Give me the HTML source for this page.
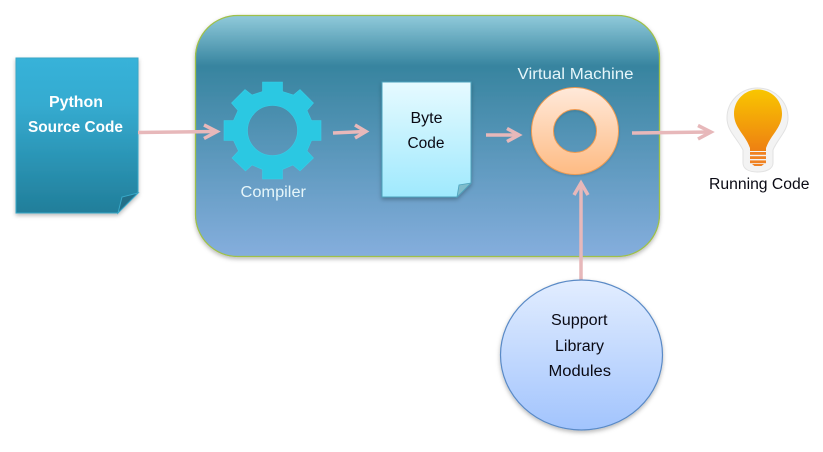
<!DOCTYPE html>
<html>
<head>
<meta charset="utf-8">
<style>
html,body{margin:0;padding:0;background:#fff;width:823px;height:452px;overflow:hidden}
svg{display:block}
text{font-family:"Liberation Sans",sans-serif;text-anchor:start}
</style>
</head>
<body>
<svg width="823" height="452" viewBox="0 0 823 452" xmlns="http://www.w3.org/2000/svg">
<defs>
<linearGradient id="panel" x1="0" y1="0" x2="0" y2="1">
<stop offset="0" stop-color="#90cada"/>
<stop offset="0.21" stop-color="#37849f"/>
<stop offset="1" stop-color="#85aedd"/>
</linearGradient>
<linearGradient id="doc" x1="0" y1="0" x2="0" y2="1">
<stop offset="0" stop-color="#37b2d9"/>
<stop offset="0.3" stop-color="#35abd0"/>
<stop offset="1" stop-color="#217e9a"/>
</linearGradient>
<linearGradient id="byte" x1="0" y1="0" x2="0" y2="1">
<stop offset="0" stop-color="#e6faff"/>
<stop offset="1" stop-color="#9fe9fd"/>
</linearGradient>
<linearGradient id="ring" x1="0" y1="0" x2="0" y2="1">
<stop offset="0" stop-color="#ffe9da"/>
<stop offset="1" stop-color="#febb83"/>
</linearGradient>
<linearGradient id="circ" x1="0" y1="0" x2="0" y2="1">
<stop offset="0" stop-color="#e2edff"/>
<stop offset="1" stop-color="#a2c4fd"/>
</linearGradient>
<linearGradient id="bulb" x1="0" y1="0" x2="0" y2="1">
<stop offset="0" stop-color="#f9c600"/>
<stop offset="1" stop-color="#ee8012"/>
</linearGradient>
<filter id="sh" x="-10%" y="-10%" width="120%" height="120%">
<feDropShadow dx="0" dy="2" stdDeviation="2" flood-color="#000" flood-opacity="0.28"/>
</filter>
<filter id="sh2" x="-10%" y="-10%" width="120%" height="120%">
<feDropShadow dx="0" dy="1" stdDeviation="1" flood-color="#000" flood-opacity="0.14"/>
</filter>
</defs>

<!-- panel -->
<rect x="195.500" y="15.500" width="464" height="241" rx="42" ry="42" fill="url(#panel)" stroke="#9fc04a" stroke-width="1.300" filter="url(#sh)"/>

<!-- Python source doc -->
<path d="M16 58H138V193L118 213H16Z" fill="url(#doc)" stroke="#38a8c8" stroke-width="1" filter="url(#sh)"/>
<path d="M138 193L122 197L118 213Z" fill="#226f88" stroke="#38a8c8" stroke-width="1"/>

<!-- arrows -->
<g fill="none" stroke="#e7b8ba" stroke-width="3.500">
<path d="M138 132.500L216 131.500"/>
<path d="M204 125L217 131.500L204 138.500"/>
<path d="M333 133L365 131.500"/>
<path d="M355 125L366 131.500L355 138"/>
<path d="M486 135L518 135"/>
<path d="M507 128.500L519 135L507 141.500"/>
<path d="M632 133L710 132"/>
<path d="M698 125.500L711 132L698 139"/>
<path d="M581 280V184"/>
<path d="M574 195L581 183L588 195"/>
</g>

<!-- gear -->
<g fill="#2bc8e2" stroke="#35cfe8" stroke-width="0.600">
<path fill-rule="evenodd" d="M262.500 82H282.500V91.500L293.500 95L300 89.500L313.500 103L307 110.500L311.500 120.500H321V140.500H311.500L307 151L313.500 158L300 171L293 165L282.500 169.500V179H262.500V169.500L252 165L245.500 171L232 158L238.500 151L233.500 140.500H224V120.500H233.500L238 110.500L231.500 103L245 89.500L252 95L262.500 91.500Z M272.500 105.500A25 25 0 1 0 272.500 155.500A25 25 0 1 0 272.500 105.500Z"/>
</g>

<!-- byte doc -->
<path d="M382 82H471V183L457 197H382Z" fill="url(#byte)" stroke="#4ea3bd" stroke-width="1" filter="url(#sh)"/>
<path d="M471 183L459 185L457 197Z" fill="#7fbccb" stroke="#4ea3bd" stroke-width="0.800"/>

<!-- ring -->
<path fill-rule="evenodd" d="M575 87.500A43.500 43.500 0 1 1 575 174.500A43.500 43.500 0 1 1 575 87.500Z M575 109.500A21.500 21.500 0 1 0 575 152.500A21.500 21.500 0 1 0 575 109.500Z" fill="url(#ring)" stroke="#ee9a50" stroke-width="1" filter="url(#sh2)"/>

<!-- support circle -->
<ellipse cx="581.500" cy="355" rx="81" ry="75" fill="url(#circ)" stroke="#5a8ac6" stroke-width="1.200" filter="url(#sh)"/>

<!-- bulb -->
<path d="M757.500 88C774 88 788 101 788 118C788 131 778 138 773 150V163C773 169 766 172 757.500 172C749 172 743 169 743 163V150C737 138 727 131 727 118C727 101 741 88 757.500 88Z" fill="#f3f3f3" stroke="#e2e2e2" stroke-width="1"/>
<path d="M758 89.500C771.500 89.500 782 100.500 782 113.500C782 128 771 134 766 148V151H750V148C745 134 734 128 734 113.500C734 100.500 744.500 89.500 758 89.500Z" fill="url(#bulb)"/>
<g fill="#f08222">
<rect x="750" y="152" width="16" height="2.800"/>
<rect x="750" y="156.200" width="16" height="2.800"/>
<rect x="750" y="160.400" width="16" height="2.800"/>
<path d="M752 164H764L761.500 166H754.500Z"/>
</g>

<!-- labels -->
<g font-weight="bold" fill="#ffffff" font-size="15.500">
<text x="49" y="107" textLength="54" lengthAdjust="spacingAndGlyphs">Python</text>
<text x="28" y="132" textLength="95" lengthAdjust="spacingAndGlyphs">Source Code</text>
</g>
<g fill="#e6f6fa" font-size="15.500">
<text x="240.500" y="197" textLength="65.500" lengthAdjust="spacingAndGlyphs">Compiler</text>
<text x="517.500" y="79" textLength="116" lengthAdjust="spacingAndGlyphs">Virtual  Machine</text>
</g>
<g fill="#0a0a14" font-size="15.500">
<text x="410.500" y="123" textLength="32" lengthAdjust="spacingAndGlyphs">Byte</text>
<text x="407.500" y="148" textLength="37" lengthAdjust="spacingAndGlyphs">Code</text>
<text x="709" y="189" textLength="100.500" lengthAdjust="spacingAndGlyphs">Running Code</text>
<text x="551" y="325" textLength="56.500" lengthAdjust="spacingAndGlyphs">Support</text>
<text x="555" y="351" textLength="49" lengthAdjust="spacingAndGlyphs">Library</text>
<text x="548.500" y="376" textLength="62.500" lengthAdjust="spacingAndGlyphs">Modules</text>
</g>
</svg>
</body>
</html>
